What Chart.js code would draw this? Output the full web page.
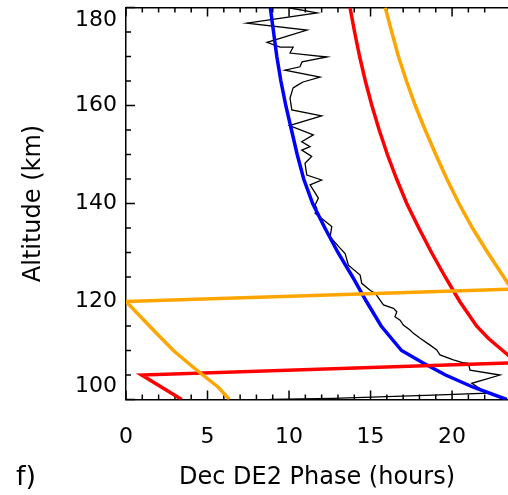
<!DOCTYPE html>
<html>
<head>
<meta charset="utf-8">
<title>Dec DE2 Phase</title>
<script src="https://cdn.jsdelivr.net/npm/chart.js@4.4.1/dist/chart.umd.min.js"></script>
<style>
  html, body { margin: 0; padding: 0; background: #fff; overflow: hidden; }
  #wrap { width: 508px; height: 495px; }
</style>
</head>
<body>
<div id="wrap"><canvas id="chart"></canvas></div>
<script>
// Axis ranges (phase in hours, altitude in km)
const phaseMin = 0;
const phaseMax = 23.43;
const altMin = 100;
const altMax = 180;

// Observed phase (thin black line)
const obsAlt = [179.9, 178.9, 176.8, 175.4, 172.9, 171.9, 171.9, 170.7, 169.9, 168.9, 167.9, 167.2, 165.8, 164.8,
    164.2, 163.6, 161.5, 159.1, 157.9, 155.9, 154.0, 152.6, 151.6, 150.9, 149.6, 148.2, 145.8, 144.8, 143.8,
    141.1, 139.7, 139.0, 138.0, 135.3, 133.2, 130.9, 129.8, 127.4, 125.4, 123.7, 122.3, 121.7, 119.3, 118.6,
    117.9, 116.9, 116.2, 115.2, 114.2, 113.5, 112.5, 111.1, 110.1, 109.1, 108.1, 107.5, 107.4, 106.0, 105.0,
    103.3, 101.3, 100.9, 100.25, 100.0];
const obsPhase = [10.06, 11.72, 7.42, 11.1, 8.65, 9.45, 10.25, 10.06, 12.33, 10.8, 10.67, 9.75, 11.9, 10.86,
    10.55, 10.25, 10.06, 10.17, 12.0, 10.02, 11.49, 10.78, 11.29, 10.78, 11.39, 10.98, 11.09, 12.0, 11.29,
    11.8, 11.6, 11.7, 11.6, 12.62, 12.52, 13.13, 13.44, 13.64, 14.36, 14.46, 14.97, 15.28, 15.79, 16.4,
    16.61, 16.5, 16.81, 17.01, 17.42, 17.63, 18.04, 18.65, 19.06, 19.26, 20.08, 20.69, 21.0, 21.1, 22.94,
    21.21, 22.15, 18.83, 12.7, 8.83];

// Blue model
const blueAlt = [180, 175, 170, 165, 160, 155, 150, 145, 140, 135, 130, 125, 120, 115, 110, 107.5, 105, 102.5, 100];
const bluePhase = [8.85, 9.05, 9.25, 9.5, 9.8, 10.15, 10.5, 10.9, 11.45, 12.2, 13.0, 13.9, 14.75, 15.65, 16.9, 18.2, 19.6, 21.3, 23.35];

// Red model (wraps from 24 h back to 0 h)
const redAlt = [180, 175, 170, 165, 160, 155, 150, 145, 140, 135, 130, 125, 120, 115, 112.5, 110, 107.5, 105, 100];
const redPhase = [13.74, 14.02, 14.33, 14.68, 15.08, 15.53, 16.03, 16.6, 17.22, 17.96, 18.74, 19.58, 20.47, 21.5, 22.22, 23.1, 24.0, 0.96, 3.42];

// Orange model (wraps from 24 h back to 0 h)
const orangeAlt = [180, 175, 170, 165, 160, 155, 150, 145, 140, 135, 130, 125, 122.5, 120, 117.5, 115, 112.5, 110, 107.5, 105, 102.5, 100];
const orangePhase = [15.9, 16.3, 16.71, 17.2, 17.74, 18.35, 19.0, 19.68, 20.42, 21.25, 22.18, 23.17, 23.66, 0.0, 0.72, 1.44, 2.17, 2.91, 3.79, 4.71, 5.66, 6.34];

function toPoints(phase, alt) {
    return phase.map((p, i) => ({ x: p, y: alt[i] }));
}

Chart.defaults.font.family = 'DejaVu Sans';
Chart.defaults.color = '#000';

// IDL style tick marks pointing into the plot
const inwardTicks = {
    id: 'inwardTicks',
    beforeDatasetsDraw(chart) {
        const { ctx, chartArea: a, scales: { x, y } } = chart;
        ctx.save();
        ctx.strokeStyle = '#000';
        ctx.lineWidth = 1.5;
        ctx.beginPath();
        x.ticks.forEach(t => {
            if (!Number.isInteger(t.value)) return;
            const px = x.getPixelForValue(t.value);
            const len = t.value % 5 === 0 ? 9 : 5;
            ctx.moveTo(px, a.bottom); ctx.lineTo(px, a.bottom - len);
            ctx.moveTo(px, a.top); ctx.lineTo(px, a.top + len);
        });
        y.ticks.forEach(t => {
            const py = y.getPixelForValue(t.value);
            const len = t.value % 20 === 0 ? 9 : 5;
            ctx.moveTo(a.left, py); ctx.lineTo(a.left + len, py);
        });
        ctx.stroke();
        ctx.restore();
    },
    afterDraw(chart) {
        // panel letter
        const ctx = chart.ctx;
        ctx.save();
        ctx.fillStyle = '#000';
        ctx.font = '27px "DejaVu Sans"';
        ctx.textAlign = 'left';
        ctx.textBaseline = 'middle';
        ctx.fillText('f)', 16, 478);
        ctx.restore();
    }
};

// fixed axis sizes, no extra room reserved for the end labels
function fixX(h) {
    return s => { s.height = h; s.paddingLeft = 0; s.paddingRight = 0; };
}
function fixY(w) {
    return s => { s.width = w; s.paddingTop = 0; s.paddingBottom = 0; };
}

const lineStyle = { pointRadius: 0, showLine: true, tension: 0, fill: false };

new Chart(document.getElementById('chart'), {
    type: 'scatter',
    data: {
        datasets: [
            { ...lineStyle, data: toPoints(orangePhase, orangeAlt), borderColor: '#ffa500', borderWidth: 3.5 },
            { ...lineStyle, data: toPoints(redPhase, redAlt), borderColor: '#ff0000', borderWidth: 3.5 },
            { ...lineStyle, data: toPoints(bluePhase, blueAlt), borderColor: '#0000ff', borderWidth: 3.5 },
            { ...lineStyle, data: toPoints(obsPhase, obsAlt), borderColor: '#000000', borderWidth: 1.3 }
        ]
    },
    options: {
        responsive: true,
        maintainAspectRatio: false,
        animation: false,
        layout: { padding: 0 },
        plugins: { legend: { display: false }, tooltip: { enabled: false } },
        scales: {
            x: {
                type: 'linear',
                position: 'bottom',
                min: phaseMin,
                max: phaseMax,
                grid: { display: false, drawTicks: false, tickLength: 0 },
                border: { display: true, color: '#000', width: 1.5 },
                ticks: {
                    stepSize: 1,
                    autoSkip: false,
                    maxRotation: 0,
                    padding: 25,
                    font: { size: 22 },
                    callback: v => (Number.isInteger(v) && v % 5 === 0) ? String(v) : ''
                },
                title: { display: true, text: 'Dec DE2 Phase (hours)', font: { size: 24 }, padding: { top: 0, bottom: 3 } },
                afterFit: fixX(95.5)
            },
            x2: {
                type: 'linear',
                position: 'top',
                min: phaseMin,
                max: phaseMax,
                grid: { display: false, drawTicks: false, tickLength: 0 },
                border: { display: true, color: '#000', width: 1.5 },
                ticks: { display: false },
                afterFit: fixX(7.5)
            },
            y: {
                type: 'linear',
                position: 'left',
                min: altMin,
                max: altMax,
                grid: { display: false, drawTicks: false, tickLength: 0 },
                border: { display: true, color: '#000', width: 1.5 },
                ticks: {
                    stepSize: 5,
                    autoSkip: false,
                    padding: 9,
                    font: { size: 22 },
                    callback: v => {
                        if (v % 20 !== 0) return '';
                        if (v === altMax) return ['', String(v)];  // keep top label inside the picture
                        if (v === altMin) return [String(v), ''];
                        return String(v);
                    }
                },
                title: { display: true, text: 'Altitude (km)', font: { size: 24 }, padding: { top: 19, bottom: 0 } },
                afterFit: fixY(126)
            }
        }
    },
    plugins: [inwardTicks]
});
</script>
</body>
</html>
